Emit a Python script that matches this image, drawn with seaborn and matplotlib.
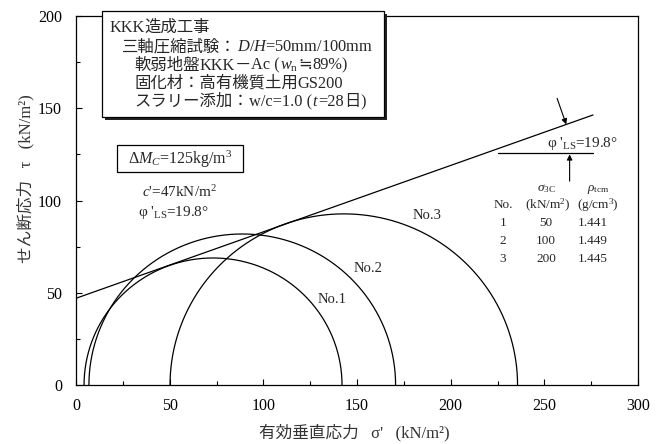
import numpy as np
import pandas as pd
import matplotlib
matplotlib.use("Agg")
import matplotlib.pyplot as plt
from matplotlib.patches import Rectangle
import seaborn as sns

# Mohr circles (effective stresses at failure, kN/m2)
specimen = ["No.1", "No.2", "No.3"]
sigma3_eff = [4.3, 6.9, 50.2]
sigma1_eff = [142.0, 170.6, 235.7]

# Failure envelope
c_eff = 47.0          # kN/m2
phi_ls = 19.8         # degrees
envelope_sigma = [0.0, 276.0]

# Test conditions table
table_no = ["1", "2", "3"]
table_sigma3c = ["50", "100", "200"]
table_rho = ["1.441", "1.449", "1.445"]

x_ticks = [0, 50, 100, 150, 200, 250, 300]
y_ticks = [0, 50, 100, 150, 200]

sns.set_theme(style="ticks")
plt.rcParams["font.family"] = ["Liberation Serif", "Noto Sans CJK JP", "DejaVu Sans"]
plt.rcParams["mathtext.fontset"] = "custom"
plt.rcParams["mathtext.rm"] = "Liberation Serif"
plt.rcParams["mathtext.it"] = "Liberation Serif:italic"
plt.rcParams["mathtext.bf"] = "Liberation Serif:bold"

CJK = ["Noto Sans CJK JP", "Liberation Serif"]
SYM = ["DejaVu Sans", "Noto Sans CJK JP"]

W, H = 660, 444
fig = plt.figure(figsize=(W / 100, H / 100), dpi=100)
ax = fig.add_axes([76 / W, 59 / H, 562 / W, 369 / H])

# circle outlines
rows = []
theta = np.linspace(0, np.pi, 721)
for name, s3, s1 in zip(specimen, sigma3_eff, sigma1_eff):
    cen, rad = (s1 + s3) / 2, (s1 - s3) / 2
    for t in theta:
        rows.append({"No": name, "sigma": cen + rad * np.cos(t), "tau": rad * np.sin(t)})
circles = pd.DataFrame(rows)
sns.lineplot(data=circles, x="sigma", y="tau", units="No", estimator=None,
             sort=False, color="black", lw=0.9, ax=ax)

env = pd.DataFrame({"sigma": envelope_sigma})
env["tau"] = c_eff + np.tan(np.radians(phi_ls)) * env["sigma"]
sns.lineplot(data=env, x="sigma", y="tau", color="black", lw=0.9, ax=ax)

ax.set_xlim(0, 300)
ax.set_ylim(0, 200)
ax.set_xticks(x_ticks)
ax.set_yticks(y_ticks)
ax.set_xticks(np.arange(25, 300, 50), minor=True)
ax.set_yticks(np.arange(25, 200, 50), minor=True)
ax.tick_params(which="both", direction="in", colors="black", labelsize=11.5,
               top=False, right=False)
ax.tick_params(axis="x", which="both", pad=9)
ax.tick_params(axis="y", which="both", pad=10)
ax.tick_params(which="major", length=4, width=0.8)
ax.tick_params(which="minor", length=3, width=0.8)
for sp in ax.spines.values():
    sp.set_visible(True)
    sp.set_linewidth(0.9)
    sp.set_color("black")

ax.set_xlabel("有効垂直応力   σ'   (kN/m²)", fontsize=12, color="#333333")
ax.set_ylabel("せん断応力   τ   (kN/m²)", fontsize=12, color="#333333")
ax.xaxis.set_label_coords(0.495, -0.104)
ax.yaxis.set_label_coords(-0.074, 0.56)

# circle labels
tan_phi = np.tan(np.radians(phi_ls))
for name, (lx, ly) in zip(specimen, [(136.7, 46.1), (155.9, 63.0), (187.4, 92.1)]):
    ax.text(lx, ly, name, fontsize=10.5, ha="center", va="center")

def fx(px):
    return px / W

def fy(py):
    return 1 - py / H

renderer = fig.canvas.get_renderer()

def put_row(px, py, parts, size=11.8):
    x = fx(px)
    for s in parts:
        if s == "≒":
            fam = SYM
        elif any(ord(ch) > 0x2000 for ch in s):
            fam = CJK
        else:
            fam = None
        t = fig.text(x, fy(py), s, fontsize=size, ha="left", va="baseline", zorder=8,
                     family=fam)
        bb = t.get_window_extent(renderer=renderer)
        x = fig.transFigure.inverted().transform((bb.x1, bb.y0))[0]

# information box with drop shadow
bx0, by0, bx1, by1 = 102, 11, 384, 117
fig.patches.append(Rectangle((fx(bx0 + 3), fy(by1 + 3)), (bx1 - bx0) / W, (by1 - by0) / H,
                             transform=fig.transFigure, facecolor="#222222",
                             edgecolor="none", zorder=5))
fig.patches.append(Rectangle((fx(bx0), fy(by1)), (bx1 - bx0) / W, (by1 - by0) / H,
                             transform=fig.transFigure, facecolor="white",
                             edgecolor="black", lw=0.9, zorder=6))
put_row(109, 32, ["KKK", "造成工事"])
put_row(122, 51, ["三軸圧縮試験：", "$D$/$H$=50mm/100mm"])
put_row(134, 69.5, ["軟弱地盤", "KKK", "－", "Ac (", r"$w_{\mathrm{n}}$", "≒", "89%)"])
put_row(134, 87.5, ["固化材：高有機質土用", "GS200"])
put_row(134, 106, ["スラリー添加：", "w/c=1.0 (", "$t$", "=28", "日", ")"])

# mixing ratio box
fig.patches.append(Rectangle((fx(117), fy(172)), (243 - 117) / W, (172 - 145) / H,
                             transform=fig.transFigure, facecolor="white",
                             edgecolor="black", lw=0.9, zorder=6))
fig.text(fx(180), fy(159), r"$\mathit{\Delta M}_{\mathit{C}}$=125kg/m$^3$", fontsize=11.5,
         ha="center", va="center", zorder=8)

fig.text(fx(142), fy(192), "$c$'=47kN/m$^2$", fontsize=11, ha="left", va="center")
fig.text(fx(138), fy(212), r"$\mathrm{φ}$ '${}_{\mathrm{LS}}$=" + f"{phi_ls}°",
         fontsize=11, ha="left", va="center")

# angle annotation on the envelope
ax.annotate("", xy=(261.7, c_eff + tan_phi * 261.7), xytext=(256.8, 155.4),
            arrowprops=dict(arrowstyle="-|>", color="black", lw=0.8, mutation_scale=8,
                            shrinkA=0, shrinkB=0))
ax.plot([225, 276], [126, 126], color="black", lw=0.9)
ax.annotate("", xy=(263.5, 125), xytext=(263.5, 110.5),
            arrowprops=dict(arrowstyle="-|>", color="black", lw=0.8, mutation_scale=8,
                            shrinkA=0, shrinkB=0))
fig.text(fx(582), fy(143), r"$\mathrm{φ}$ '${}_{\mathrm{LS}}$=" + f"{phi_ls}°",
         fontsize=11, ha="center", va="center")

# specimen table
fig.text(fx(546), fy(189), r"$\sigma_{\mathrm{3C}}$", fontsize=9.5, ha="center", va="center")
fig.text(fx(598), fy(189), r"$\rho_{\mathrm{tcm}}$", fontsize=9.5, ha="center", va="center")
fig.text(fx(503), fy(205), "No.", fontsize=9.5, ha="center", va="center")
fig.text(fx(548), fy(205), "(kN/m$^2$)", fontsize=9.5, ha="center", va="center")
fig.text(fx(598), fy(205), "(g/cm$^3$)", fontsize=9.5, ha="center", va="center")
for i, (n, s3, rho) in enumerate(zip(table_no, table_sigma3c, table_rho)):
    yy = [223, 241, 259][i]
    fig.text(fx(503), fy(yy), n, fontsize=9.5, ha="center", va="center")
    fig.text(fx(546), fy(yy), s3, fontsize=9.5, ha="center", va="center")
    fig.text(fx(593), fy(yy), rho, fontsize=9.5, ha="center", va="center")

fig.savefig("out.png", dpi=100)
